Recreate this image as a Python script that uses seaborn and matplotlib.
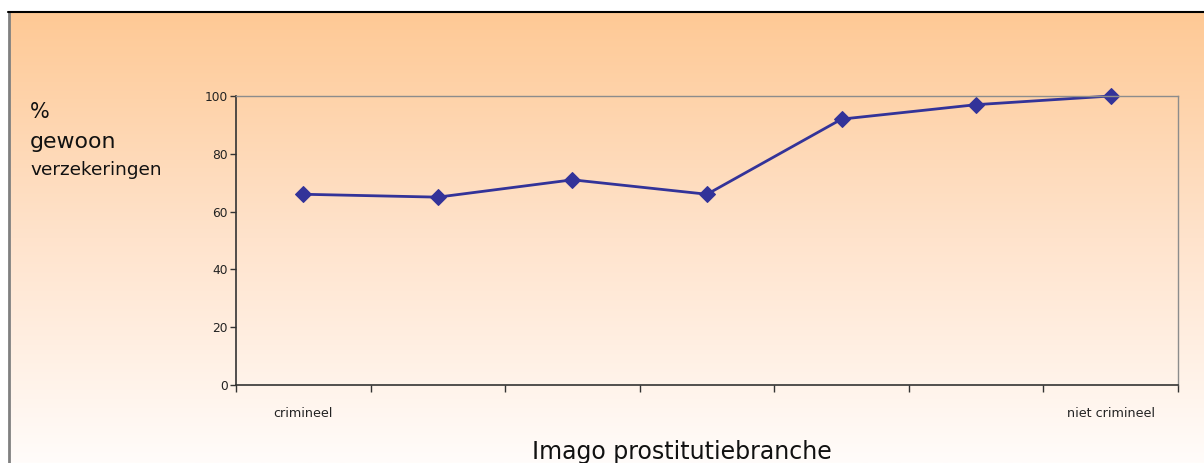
import numpy as np
import pandas as pd
import matplotlib
matplotlib.use("Agg")
import matplotlib.pyplot as plt
from matplotlib.colors import LinearSegmentedColormap
import seaborn as sns

# Data
positions = [1, 2, 3, 4, 5, 6, 7]
values = [66, 65, 71, 66, 92, 97, 100]
tick_labels = ["crimineel", "", "", "", "", "", "niet crimineel"]
y_ticks = [0, 20, 40, 60, 80, 100]

sns.set_theme(style="white")
plt.rcParams['font.family'] = ['DejaVu Sans']

W, H = 1204, 463
fig = plt.figure(figsize=(W / 100, H / 100), dpi=100)
fig.patch.set_facecolor("white")

# Background gradient
bg = fig.add_axes([0, 0, 1, 1], zorder=-10)
bg.set_xlim(0, W)
bg.set_ylim(H, 0)
bg.axis("off")
cmap = LinearSegmentedColormap.from_list("g", ["#FEC995", "#FFE3CC", "#FFFCFA"])
grad = np.linspace(0, 1, 256).reshape(-1, 1)
bg.imshow(grad, cmap=cmap, aspect="auto", extent=[8.5, W, H, 12], interpolation="bilinear")
bg.plot([8.5, 8.5], [12, H], color="#808080", lw=2)
bg.plot([8, W], [12, 12], color="black", lw=1.5)

# Main axes
ax = fig.add_axes([236 / W, 1 - 385 / H, (1178 - 236) / W, (385 - 96) / H])
ax.set_facecolor("none")
df = pd.DataFrame({"pos": positions, "val": values})
sns.lineplot(data=df, x="pos", y="val", ax=ax, color="#333399", lw=2,
             marker="D", markersize=8, markeredgecolor="#333399")
for ln in ax.lines:
    ln.set_clip_on(False)

ax.set_xlim(0.5, 7.5)
ax.set_ylim(0, 100)
ax.set_yticks(y_ticks)
ax.set_yticklabels([str(v) for v in y_ticks], fontsize=8.8, color="#222222")
ax.set_xticks(positions)
ax.set_xticklabels(tick_labels, fontsize=9.2, color="#222222")
ax.set_xticks(np.arange(0.5, 8, 1), minor=True)
ax.tick_params(axis="x", which="major", length=0, pad=16)
ax.tick_params(axis="x", which="minor", length=5, width=1, color="#333333", direction="out", bottom=True)
ax.tick_params(axis="y", which="major", length=4, width=1, color="#333333", direction="out", left=True, pad=2)
ax.set_xlabel("")
ax.set_ylabel("")
for s in ["left", "bottom"]:
    ax.spines[s].set_color("#333333")
    ax.spines[s].set_linewidth(1.2)
for s in ["top", "right"]:
    ax.spines[s].set_color("#8c8c8c")
    ax.spines[s].set_linewidth(1)

# Titles
fig.text(682 / W, 1 - 459 / H, "Imago prostitutiebranche", ha="center", va="baseline", fontsize=17, color="#111111")
fig.text(30 / W, 1 - 118 / H, "%", ha="left", va="baseline", fontsize=15, color="#111111")
fig.text(30 / W, 1 - 148 / H, "gewoon", ha="left", va="baseline", fontsize=15.8, color="#111111")
fig.text(30 / W, 1 - 175 / H, "verzekeringen", ha="left", va="baseline", fontsize=13.3, color="#111111")

fig.savefig("out.png", dpi=100)
